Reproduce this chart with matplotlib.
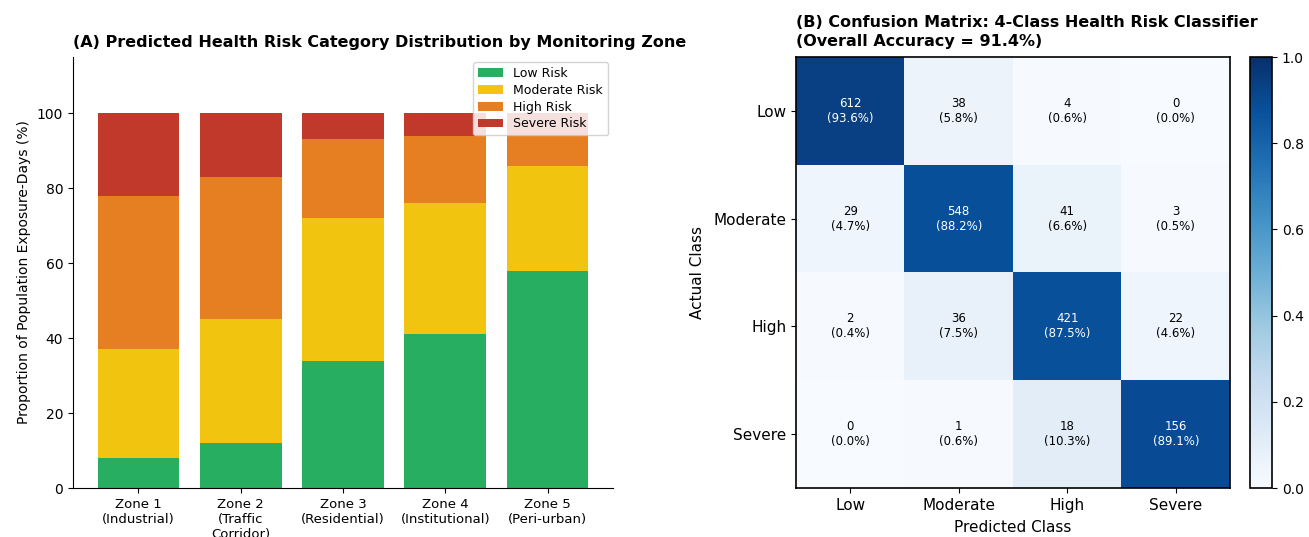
import numpy as np
import matplotlib as mpl
mpl.use('Agg')
import matplotlib.pyplot as plt

# panel A data: share of population exposure-days (%)
zones = ['Zone 1\n(Industrial)', 'Zone 2\n(Traffic\nCorridor)', 'Zone 3\n(Residential)',
         'Zone 4\n(Institutional)', 'Zone 5\n(Peri-urban)']
risk_names = ['Low Risk', 'Moderate Risk', 'High Risk', 'Severe Risk']
low_risk = [8, 12, 34, 41, 58]
moderate_risk = [29, 33, 38, 35, 28]
high_risk = [41, 38, 21, 18, 8]
severe_risk = [22, 17, 7, 6, 6]
risk_colors = ['#27ae60', '#f1c40f', '#e67e22', '#c0392b']

# panel B data: confusion matrix counts (rows = actual, cols = predicted)
classes = ['Low', 'Moderate', 'High', 'Severe']
cm_low = [612, 38, 4, 0]
cm_moderate = [29, 548, 41, 3]
cm_high = [2, 36, 421, 22]
cm_severe = [0, 1, 18, 156]
overall_acc = 91.4

W, H = 1309, 537
fig = plt.figure(figsize=(W / 100, H / 100), dpi=100)

# ---- panel A ----
axA = fig.add_axes([73 / W, 1 - 488 / H, (613 - 73) / W, (488 - 57) / H])
x = np.arange(len(zones))
bottom = np.zeros(len(zones))
for vals, name, col in zip([low_risk, moderate_risk, high_risk, severe_risk],
                           risk_names, risk_colors):
    axA.bar(x, vals, 0.8, bottom=bottom, color=col, label=name)
    bottom += np.array(vals)
axA.set_xticks(x)
axA.set_xticklabels(zones, fontsize=9.5)
axA.set_ylim(0, 115)
axA.set_yticks(np.arange(0, 101, 20))
axA.tick_params(axis='y', labelsize=10)
axA.set_ylabel('Proportion of Population Exposure-Days (%)', fontsize=10)
axA.set_title('(A) Predicted Health Risk Category Distribution by Monitoring Zone',
              loc='left', fontsize=11.5, fontweight='bold', pad=7)
axA.spines['top'].set_visible(False)
axA.spines['right'].set_visible(False)
axA.legend(loc='upper right', fontsize=9, framealpha=0.85, labelspacing=0.3,
           borderaxespad=0.4)

# ---- panel B ----
cm = np.array([cm_low, cm_moderate, cm_high, cm_severe], dtype=float)
cm_norm = cm / cm.sum(axis=1, keepdims=True)
axB = fig.add_axes([796 / W, 1 - 488 / H, (1230 - 796) / W, (488 - 57) / H])
im = axB.imshow(cm_norm, cmap='Blues', vmin=0, vmax=1, aspect='auto')
for i in range(4):
    for j in range(4):
        c = 'white' if cm_norm[i, j] > 0.5 else 'black'
        axB.text(j, i, '{0:d}\n({1:.1f}%)'.format(int(cm[i, j]), 100 * cm_norm[i, j]),
                 ha='center', va='center', fontsize=8.5, color=c)
axB.set_xticks(range(4))
axB.set_xticklabels(classes, fontsize=11)
axB.set_yticks(range(4))
axB.set_yticklabels(classes, fontsize=11)
axB.set_xlabel('Predicted Class', fontsize=11, labelpad=5)
axB.set_ylabel('Actual Class', fontsize=11, labelpad=6)
axB.set_title('(B) Confusion Matrix: 4-Class Health Risk Classifier\n'
              '(Overall Accuracy = {0:.1f}%)'.format(overall_acc),
              loc='left', fontsize=11.5, fontweight='bold', pad=8, linespacing=1.35)
for sp in axB.spines.values():
    sp.set_linewidth(1.2)

cax = fig.add_axes([1250 / W, 1 - 488 / H, 22 / W, (488 - 57) / H])
cb = fig.colorbar(im, cax=cax)
cb.ax.tick_params(labelsize=10)
cb.outline.set_linewidth(1.2)

plt.savefig('out.png', dpi=100)
